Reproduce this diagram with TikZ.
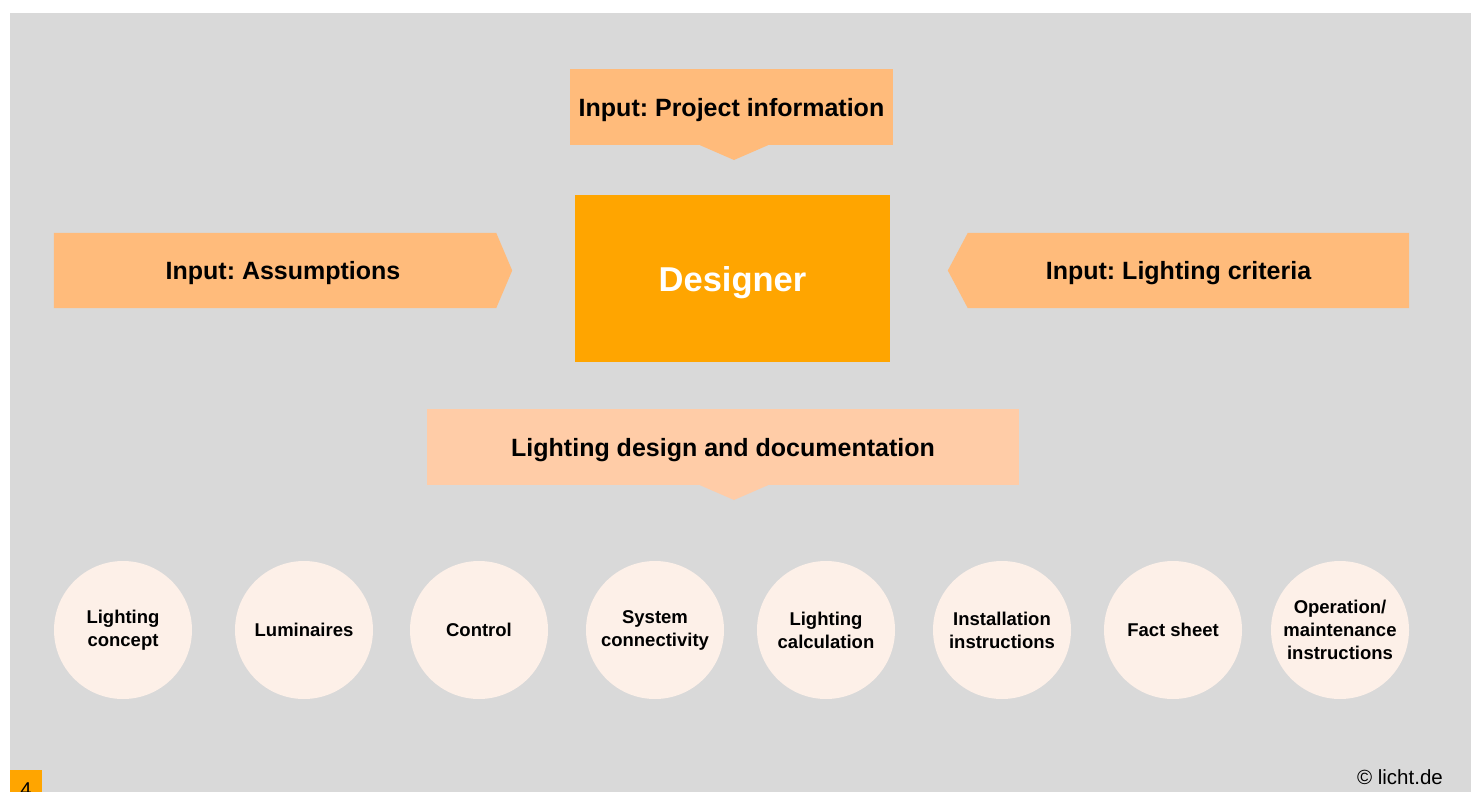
\documentclass[tikz,border=0pt]{standalone}
\usepackage{fontspec}
\setmainfont{Liberation Sans}
\frenchspacing
\definecolor{bggray}{HTML}{D9D9D9}
\definecolor{darkorange}{HTML}{FFA500}
\definecolor{inputorange}{HTML}{FFBB7B}
\definecolor{paleorange}{HTML}{FFCCA7}
\definecolor{discfill}{HTML}{FDF0E8}
\begin{document}
\begin{tikzpicture}[x=1pt,y=-1pt]
\tikzstyle{inbox}=[inner sep=0pt, text depth=0pt, font=\bfseries\fontsize{25}{29}\selectfont]
\tikzstyle{disc}=[circle, fill=discfill, minimum size=138pt, inner sep=0pt, align=center,
  font=\bfseries\fontsize{18.5}{23}\selectfont]
\useasboundingbox (0,0) rectangle (1477,792);
\fill[bggray] (10,13) rectangle (1471,792);
% inputs
\node[inbox, fill=inputorange, minimum width=323pt, minimum height=76pt] (proj) at (731.5,107) {Input: Project information};
\coordinate (projtip) at (734,160);
\fill[inputorange] ([xshift=-31.5pt]proj.south) -- (projtip) -- ([xshift=36.5pt]proj.south) -- cycle;
\node[inbox, minimum width=458pt, minimum height=75pt] (assume) at (283,270.5) {};
\fill[inputorange] (assume.north west) -- ([xshift=-16pt]assume.north east) -- (assume.east)
  -- ([xshift=-16pt]assume.south east) -- (assume.south west) -- cycle;
\node[inbox] at (assume) {Input: Assumptions};
\node[inbox, minimum width=461pt, minimum height=75pt] (criteria) at (1178.5,270.5) {};
\fill[inputorange] (criteria.west) -- ([xshift=20pt]criteria.north west) -- (criteria.north east)
  -- (criteria.south east) -- ([xshift=20pt]criteria.south west) -- cycle;
\node[inbox] at (criteria) {Input: Lighting criteria};
% designer
\node[fill=darkorange, minimum width=315pt, minimum height=167pt, inner sep=0pt, text=white, text depth=0pt,
  font=\bfseries\fontsize{34.5}{40}\selectfont] (designer) at (732.5,278.5) {Designer};
% output
\node[inbox, fill=paleorange, minimum width=592pt, minimum height=76pt] (design) at (723,447) {Lighting design and documentation};
\coordinate (designtip) at (734,500);
\fill[paleorange] ([xshift=-23pt]design.south) -- (designtip) -- ([xshift=45pt]design.south) -- cycle;
\foreach \x/\name/\txt in {123/concept/{Lighting\\concept}, 304/luminaires/{Luminaires},
  479/control/{Control}, 655/connect/{System\\connectivity}, 826/calc/{Lighting\\calculation},
  1002/install/{Installation\\instructions}, 1173/fact/{Fact sheet},
  1340/operation/{Operation/\\maintenance\\instructions}}
	\node[disc] (\name) at (\x,630) {\txt};
% footer
\node[fill=darkorange, minimum width=32pt, minimum height=22pt, inner sep=0pt] (page) at (26,781) {};
\node[anchor=base, font=\fontsize{20}{24}\selectfont, inner sep=0pt] (pagenum) at (26,796) {4};
\node[anchor=base east, font=\fontsize{20.5}{24}\selectfont, inner sep=0pt] (copy) at (1443,784) {© licht.de};
\end{tikzpicture}
\end{document}
